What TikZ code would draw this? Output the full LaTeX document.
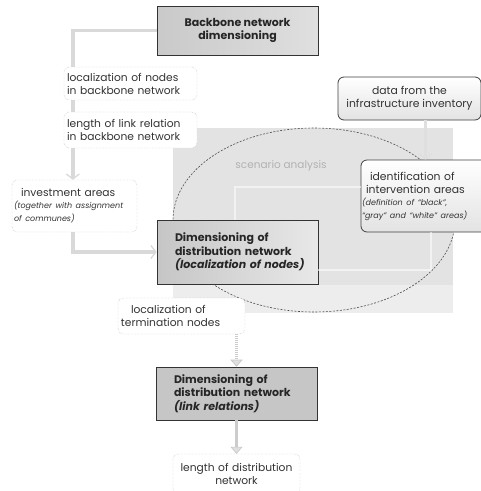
\documentclass[tikz,border=0pt]{standalone}
\usepackage{fontspec}
\setmainfont{Poppins}
\usetikzlibrary{arrows.meta}

\newcommand\remark[1]{{\fontsize{8}{9.8}\selectfont\itshape #1}}
\newcommand\ind{\hspace*{18pt}}

\tikzset{
  darkbox/.style={draw=black!80, semithick, inner xsep=0pt, inner ysep=0pt, font=\fontsize{11}{13.5}\selectfont\bfseries, text=black!85},
  note/.style={draw=gray!65, densely dotted, rounded corners=5pt, fill=white, inner xsep=3pt, inner ysep=0pt, text=black!80, align=left, font=\fontsize{10.7}{13}\selectfont},
  infobox/.style={draw=black!75, thick, rounded corners=6pt, top color=white, bottom color=gray!22, inner xsep=1pt, inner ysep=0pt, text=black!80, font=\fontsize{10.8}{13}\selectfont},
  link/.style={draw=gray!30, line width=3.5pt},
  flow/.style={link, -{Straight Barb[length=5pt,width=13pt,line width=1.3pt]}},
  dflow/.style={draw=gray!40, line width=3pt, dash pattern=on 1.2pt off 0.8pt, -{Triangle[length=7pt,width=12pt,fill=gray!25,color=gray!45,line width=0.6pt]}},
  faint/.style={draw=white, opacity=0.55, line width=2pt}
}

\begin{document}
\begin{tikzpicture}[x=1pt,y=-1pt]
\useasboundingbox (0,0) rectangle (481,491);
% scenario analysis area
\fill[gray!22] (173,128) rectangle (453,313);
\fill[gray!14] (173,285) rectangle (453,313);
\draw[black!70, line width=0.6pt, dash pattern=on 2pt off 1.5pt] (314,220) ellipse [x radius=141pt, y radius=92pt];
\node[text=gray!60, font=\fontsize{10.5}{12}\selectfont] (scen) at (281,166) {scenario analysis};

\node[darkbox, left color=gray!42, right color=gray!25, minimum width=161pt, minimum height=49pt, align=center] (backbone) at (237.5,30.5) {Backbone network\\dimensioning};
\node[note, text width=127pt, minimum height=33pt] (locnodes) at (130.5,83.5) {localization of nodes\\in backbone network};
\node[note, text width=127pt, minimum height=36pt] (linklen) at (130.5,130) {length of link relation\\in backbone network};
\node[note, inner xsep=2pt, text width=121pt, minimum height=52pt] (invest) at (74.5,206) {\hspace*{7pt}investment areas\\[-1pt]\remark{(together with assignment}\\\remark{of communes)}};
\node[darkbox, left color=gray!45, right color=gray!18, text width=161pt, minimum height=64pt, align=left] (distloc) at (237.5,252) {\ind Dimensioning of\\\ind distribution network\\\ind\textit{(localization of nodes)}};
\node[infobox, minimum width=143pt, minimum height=43pt, align=center] (data) at (409.5,98.5) {data from the\\infrastructure inventory};
\node[infobox, text width=124pt, minimum height=72pt, align=left] (ident) at (424,196) {\hspace*{8pt}identification of\\\hspace*{4pt}intervention areas\\[-1pt]\remark{(definition of “black”,}\\\remark{“gray” and “white” areas)}};
\node[note, text width=121pt, minimum height=36pt] (term) at (181.5,316) {\hspace*{10pt}localization of\\termination nodes};
\node[darkbox, left color=gray!45, middle color=gray!14, right color=gray!45, text width=161pt, minimum height=53pt, align=left] (distlink) at (236.5,393.5) {\ind Dimensioning of\\\ind distribution network\\\ind\textit{(link relations)}};
\node[note, text width=121pt, minimum height=40pt, align=center] (distlen) at (236.5,474) {length of distribution\\network};

% connectors
\draw[link] (backbone.west) -| ([xshift=9pt]locnodes.north west);
\draw[link] ([xshift=9pt]locnodes.south west) -- ([xshift=9pt]linklen.north west);
\draw[flow] ([xshift=9pt]linklen.south west) -- ([xshift=9pt]linklen.south west |- invest.north);
\draw[flow] ([xshift=9pt]linklen.south west |- invest.south) |- (distloc.west);
\draw[flow, draw=gray!25] ([xshift=-56pt]data.south east) -- ([xshift=-56pt]data.south east |- ident.north);
\draw[faint] ([yshift=-27pt]ident.north west) -| ([xshift=78pt]distloc.north west);
\draw[faint] ([xshift=70pt]ident.south west) |- ([yshift=-18pt]distloc.east);
\draw[dflow] (distlink.north |- term.south) -- (distlink.north);
\draw[dflow] (distlink.south) -- (distlen.north);
\end{tikzpicture}
\end{document}
